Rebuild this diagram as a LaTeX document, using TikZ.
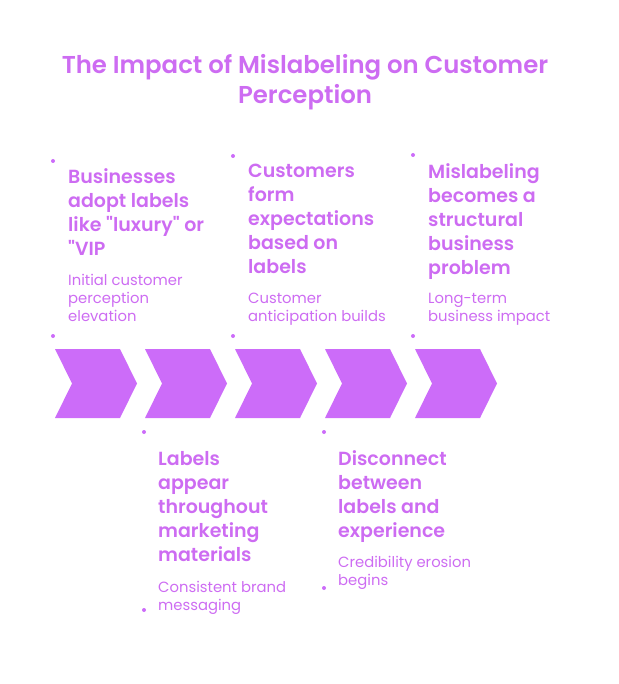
\documentclass[tikz,border=0pt]{standalone}
\usepackage{fontspec}
\setmainfont{Poppins}
\newfontfamily\headfont{Poppins SemiBold}
\usepackage{xcolor}
\usepackage{tikz}
\usetikzlibrary{positioning, calc}

\definecolor{violetfill}{HTML}{CC6CF9}
\definecolor{violettext}{HTML}{CD6CF2}

\tikzset{
    heading/.style={anchor=north west, align=left, inner sep=0pt, text=violettext,
        font=\headfont\fontsize{19}{24}\selectfont},
    subtext/.style={anchor=north west, align=left, inner sep=0pt, text=violettext,
        font=\fontsize{14.8}{18}\selectfont},
    bullet/.style={circle, fill=violetfill, inner sep=0pt, minimum size=4pt}
}

\begin{document}
\begin{tikzpicture}[x=1pt, y=-1pt]
    \useasboundingbox (0,0) rectangle (618,684);

    % title
    \node[align=center, text=violettext, font=\headfont\fontsize{24.4}{30}\selectfont]
        (title) at (305,82) {The Impact of Mislabeling on Customer\\Perception};

    % chevrons
    \foreach \x [count=\i] in {55,145,235,325,415} {
        \fill[violetfill] (\x,349) -- (\x+65,349) -- (\x+82,383.5) -- (\x+65,418)
            -- (\x,418) -- (\x+17,383.5) -- cycle;
    }

    % upper steps
    \node[bullet] (dotA) at (53,161) {};
    \node[bullet] (dotAe) at (53,336) {};
    \node[heading] (headA) at (68,168) {Businesses\\adopt labels\\like "luxury" or\\"VIP};
    \node[subtext, below=19pt of headA.south west, anchor=north west] (subA)
        {Initial customer\\perception\\elevation};

    \node[bullet] (dotC) at (233,156) {};
    \node[bullet] (dotCe) at (233,336) {};
    \node[heading] (headC) at (248,164) {Customers\\form\\expectations\\based on\\labels};
    \node[subtext, below=19pt of headC.south west, anchor=north west] (subC)
        {Customer\\anticipation builds};

    \node[bullet] (dotE) at (413,155) {};
    \node[bullet] (dotEe) at (413,336) {};
    \node[heading] (headE) at (428,163) {Mislabeling\\becomes a\\structural\\business\\problem};
    \node[subtext, below=13.5pt of headE.south west, anchor=north west] (subE)
        {Long-term\\business impact};

    % lower steps
    \node[bullet] (dotB) at (144,432) {};
    \node[bullet] (dotBe) at (144,610) {};
    \node[heading] (headB) at (158,451) {Labels\\appear\\throughout\\marketing\\materials};
    \node[subtext, below=19pt of headB.south west, anchor=north west] (subB)
        {Consistent brand\\messaging};

    \node[bullet] (dotD) at (324,432) {};
    \node[bullet] (dotDe) at (324,588) {};
    \node[heading] (headD) at (338,450) {Disconnect\\between\\labels and\\experience};
    \node[subtext, below=14pt of headD.south west, anchor=north west] (subD)
        {Credibility erosion\\begins};
\end{tikzpicture}
\end{document}
